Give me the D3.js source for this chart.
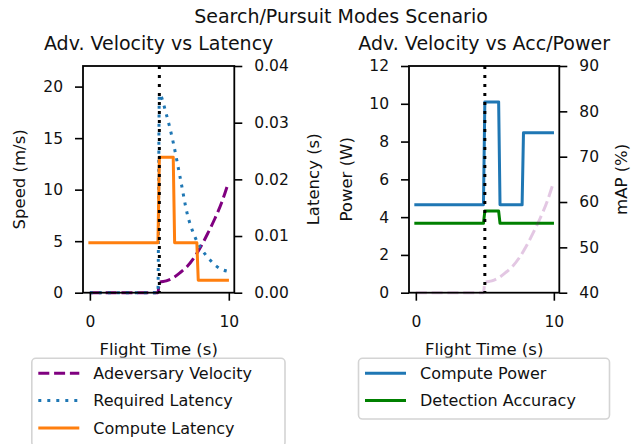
<!DOCTYPE html>
<html>
<head>
<meta charset="utf-8">
<script src="https://cdn.jsdelivr.net/npm/d3@7"></script>
<style>
  html, body { margin: 0; padding: 0; background: #fff; }
  svg { display: block; font-family: "DejaVu Sans", sans-serif; }
</style>
</head>
<body>
<svg id="chart" width="631" height="444"></svg>
<script>
// ---------------- data ----------------
const suptitle = "Search/Pursuit Modes Scenario";
const leftTitle = "Adv. Velocity vs Latency";
const rightTitle = "Adv. Velocity vs Acc/Power";

// Adversary velocity (m/s)
const velTime  = [0, 4.9, 5.0, 5.5, 6.0, 6.5, 7.0, 7.5, 8.0, 8.5, 9.0, 9.5, 9.9];
const velSpeed = [0, 0, 1.0, 1.15, 1.45, 1.95, 2.55, 3.4, 4.5, 5.8, 7.2, 8.8, 10.4];

// Required latency (s)
const reqTime    = [0, 4.9, 5.0, 5.5, 6.0, 6.5, 7.0, 7.5, 8.0, 8.5, 9.0, 9.5, 9.9];
const reqLatency = [0, 0, 0.0350, 0.0315, 0.0265, 0.0203, 0.0140, 0.0102, 0.0078, 0.0062, 0.0049, 0.0041, 0.0038];

// Compute latency (s)
const compTime    = [0, 4.9, 5.0, 6.0, 6.1, 7.7, 7.8, 9.9];
const compLatency = [0.0088, 0.0088, 0.0239, 0.0239, 0.0088, 0.0088, 0.0022, 0.0022];

// Compute power (W)
const powTime  = [0, 4.9, 5.0, 6.0, 6.1, 7.7, 7.8, 9.9];
const powValue = [4.65, 4.65, 10.1, 10.1, 4.65, 4.65, 8.47, 8.47];

// Detection accuracy (mAP %)
const accTime  = [0, 4.9, 5.0, 6.0, 6.1, 9.9];
const accValue = [55.3, 55.3, 58.0, 58.0, 55.3, 55.3];

const modeSwitchTime = 5;

const xTicks = [0, 10];
const speedTicks = [0, 5, 10, 15, 20];
const latencyTicks = [0, 0.01, 0.02, 0.03, 0.04];
const powerTicks = [0, 2, 4, 6, 8, 10, 12];
const mapTicks = [40, 50, 60, 70, 80, 90];

const leftLegend = ["Adeversary Velocity", "Required Latency", "Compute Latency"];
const rightLegend = ["Compute Power", "Detection Accuracy"];

// ---------------- drawing ----------------
const svg = d3.select("#chart");
svg.append("rect").attr("width", 631).attr("height", 444).attr("fill", "#fff");

const C = {purple: "#800080", blue: "#1f77b4", orange: "#ff7f0e", green: "#008000"};
const TICK_FS = 15.5, LABEL_FS = 16.5, TITLE_FS = 19, LEG_FS = 16;
const TOP = 66, BOT = 292.7;
const DASH = "11,4.8", DOT = "3,6";

const zip = (a, b) => a.map((v, i) => [v, b[i]]);

function makePanel(x0, x1, yLeftDomain, yRightDomain) {
  const x = d3.scaleLinear().domain([-0.495, 10.395]).range([x0, x1]);
  const yl = d3.scaleLinear().domain(yLeftDomain).range([BOT, TOP]);
  const yr = d3.scaleLinear().domain(yRightDomain).range([BOT, TOP]);
  return {x, yl, yr, x0, x1};
}

function drawAxes(p, leftTicks, leftFmt, rightTicks, rightFmt, labels) {
  const g = svg.append("g");
  const gx = g.append("g").attr("transform", `translate(0,${BOT})`)
    .call(d3.axisBottom(p.x).tickValues(xTicks).tickSize(8).tickPadding(12).tickFormat(d3.format("d")));
  const gl = g.append("g").attr("transform", `translate(${p.x0},0)`)
    .call(d3.axisLeft(p.yl).tickValues(leftTicks).tickSize(8).tickPadding(12).tickFormat(leftFmt));
  const gr = g.append("g").attr("transform", `translate(${p.x1},0)`)
    .call(d3.axisRight(p.yr).tickValues(rightTicks).tickSize(8).tickPadding(12).tickFormat(rightFmt));
  [gx, gl, gr].forEach(a => {
    a.select(".domain").remove();
    a.selectAll(".tick line").attr("stroke", "#000").attr("stroke-width", 1.6);
    a.selectAll(".tick text").attr("fill", "#111").attr("font-size", TICK_FS)
      .attr("font-family", "DejaVu Sans");
  });
  gx.selectAll(".tick text").attr("dy", "0.95em");
  svg.append("rect").attr("x", p.x0).attr("y", TOP)
    .attr("width", p.x1 - p.x0).attr("height", BOT - TOP)
    .attr("fill", "none").attr("stroke", "#000").attr("stroke-width", 1.8);
  svg.append("text").attr("x", (p.x0 + p.x1) / 2).attr("y", 354.5)
    .attr("text-anchor", "middle").attr("font-size", LABEL_FS).attr("fill", "#111")
    .text("Flight Time (s)");
  svg.append("text").attr("transform", `translate(${labels.lx},${(TOP + BOT) / 2}) rotate(-90)`)
    .attr("text-anchor", "middle").attr("font-size", LABEL_FS).attr("fill", "#111").text(labels.left);
  svg.append("text").attr("transform", `translate(${labels.rx},${(TOP + BOT) / 2}) rotate(-90)`)
    .attr("text-anchor", "middle").attr("font-size", LABEL_FS).attr("fill", "#111").text(labels.right);
  svg.append("text").attr("x", (p.x0 + p.x1) / 2).attr("y", 50)
    .attr("text-anchor", "middle").attr("font-size", TITLE_FS).attr("fill", "#111").text(labels.title);
}

function drawLine(p, yScale, xs, ys, color, opts = {}) {
  const line = d3.line().x(d => p.x(d[0])).y(d => yScale(d[1]));
  if (opts.curve) line.curve(d3.curveMonotoneX);
  svg.append("path").datum(zip(xs, ys))
    .attr("d", line).attr("fill", "none")
    .attr("stroke", color).attr("stroke-width", 3)
    .attr("stroke-opacity", opts.opacity ?? 1)
    .attr("stroke-dasharray", opts.dash || null)
    .attr("stroke-linejoin", "round")
    .attr("stroke-linecap", opts.dash ? "butt" : "square");
}

function drawVline(p) {
  svg.append("line")
    .attr("x1", p.x(modeSwitchTime)).attr("x2", p.x(modeSwitchTime))
    .attr("y1", TOP).attr("y2", BOT)
    .attr("stroke", "#000").attr("stroke-width", 3).attr("stroke-dasharray", DOT);
}

svg.append("text").attr("x", 341).attr("y", 22.5).attr("text-anchor", "middle")
  .attr("font-size", TITLE_FS).attr("fill", "#111").text(suptitle);

// ----- left panel -----
const L = makePanel(83, 234.3, [0, 22], [0, 0.04]);
drawLine(L, L.yl, velTime, velSpeed, C.purple, {dash: DASH, curve: true});
drawLine(L, L.yr, reqTime, reqLatency, C.blue, {dash: DOT, curve: true});
drawLine(L, L.yr, compTime, compLatency, C.orange);
drawVline(L);
drawAxes(L, speedTicks, d3.format("d"), latencyTicks, d3.format(".2f"),
  {left: "Speed (m/s)", right: "Latency (s)", lx: 25, rx: 319, title: leftTitle});

// ----- right panel -----
const R = makePanel(409, 559.3, [0, 12], [40, 90]);
const speedR = d3.scaleLinear().domain([0, 22]).range([BOT, TOP]);
drawLine(R, R.yl, powTime, powValue, C.blue);
drawLine(R, R.yr, accTime, accValue, C.green);
drawLine(R, speedR, velTime, velSpeed, C.purple, {dash: DASH, curve: true, opacity: 0.22});
drawVline(R);
drawAxes(R, powerTicks, d3.format("d"), mapTicks, d3.format("d"),
  {left: "Power (W)", right: "mAP (%)", lx: 352, rx: 627, title: rightTitle});

// ----- legends -----
function legend(x, y, w, h, items) {
  const g = svg.append("g");
  g.append("rect").attr("x", x).attr("y", y).attr("width", w).attr("height", h)
    .attr("rx", 4).attr("fill", "#fff").attr("fill-opacity", 0.8)
    .attr("stroke", "#d4d4d4").attr("stroke-width", 1.6);
  items.forEach((it, i) => {
    const cy = y + 15 + i * 27.3;
    g.append("line").attr("x1", x + 6.5).attr("x2", x + 47.5).attr("y1", cy).attr("y2", cy)
      .attr("stroke", it.color).attr("stroke-width", 3)
      .attr("stroke-dasharray", it.dash || null);
    g.append("text").attr("x", x + 61.5).attr("y", cy + 5.8)
      .attr("font-size", LEG_FS).attr("fill", "#111").text(it.label);
  });
}
legend(31.8, 358.3, 253.2, 88, [
  {label: leftLegend[0], color: C.purple, dash: DASH},
  {label: leftLegend[1], color: C.blue, dash: DOT},
  {label: leftLegend[2], color: C.orange}
]);
legend(358.5, 358.3, 251, 60.7, [
  {label: rightLegend[0], color: C.blue},
  {label: rightLegend[1], color: C.green}
]);
</script>
</body>
</html>
